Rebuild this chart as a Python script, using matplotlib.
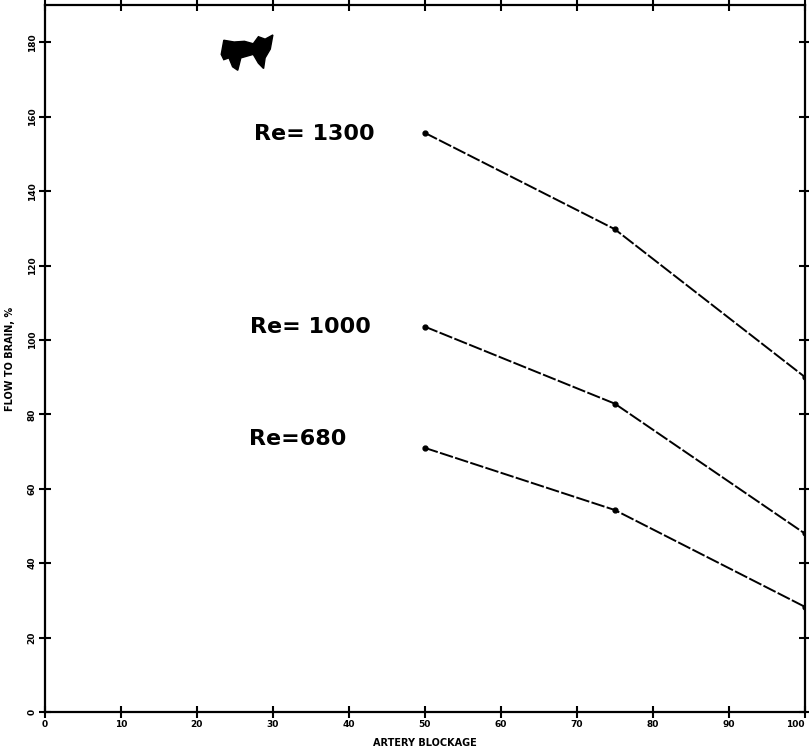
import matplotlib.pyplot as plt
import numpy as np

# artery blockage (%) and flow to brain (%) for three Reynolds numbers
blockage = [50, 75, 100]
flow_1300 = [155.7, 129.8, 90.1]
flow_1000 = [103.6, 82.9, 48.0]
flow_680 = [71.0, 54.3, 28.3]
curve_labels = ['Re= 1300', 'Re= 1000', 'Re=680']
label_spots = [(27.5, 155.5), (27, 103.5), (26.8, 73.5)]

xticks = np.arange(0, 101, 10)
yticks = np.arange(0, 181, 20)

fig = plt.figure(figsize=(8.09, 7.51), dpi=100)
ax = fig.add_axes([0.0556, 0.052, 0.939, 0.941])

for flow in [flow_1300, flow_1000, flow_680]:
    ax.plot(blockage, flow, color='black', linewidth=1.4, linestyle=(0, (7, 1.2)),
            marker='o', markersize=3.5)

for txt, (tx, ty) in zip(curve_labels, label_spots):
    ax.text(tx, ty, txt, fontsize=16, fontweight='semibold', color='black',
            ha='left', va='center', family='DejaVu Sans')

# the little animal sketch in the upper left
pts = np.array([(0.0, 0.45), (0.05, 0.85), (0.25, 0.80), (0.45, 0.82), (0.62, 0.75),
                (0.72, 0.95), (0.85, 0.88), (1.0, 1.0), (0.95, 0.6), (0.85, 0.35),
                (0.82, 0.05), (0.72, 0.2), (0.62, 0.45), (0.5, 0.40), (0.38, 0.35),
                (0.32, 0.0), (0.22, 0.1), (0.15, 0.35), (0.05, 0.3)])
pts[:, 0] = 0.232 + pts[:, 0] * 0.068
pts[:, 1] = 0.908 + pts[:, 1] * 0.050
blob = plt.Polygon(pts, closed=True, transform=ax.transAxes, color='black')
ax.add_patch(blob)

ax.set_xlim(0, 100)
ax.set_ylim(0, 190)
ax.set_xticks(xticks)
ax.set_yticks(yticks)
ax.set_xticklabels([str(v) for v in xticks], fontsize=6.5, fontweight='bold')
ax.get_xticklabels()[-1].set_ha('right')
ax.set_yticklabels([str(v) for v in yticks], fontsize=6.5, fontweight='bold',
                   rotation=90, va='center')
ax.tick_params(direction='inout', length=8, width=1.5, top=True, right=True, pad=2)

for s in ax.spines.values():
    s.set_linewidth(1.6)

ax.set_xlabel('ARTERY BLOCKAGE', fontsize=7, fontweight='bold', labelpad=6)
ax.set_ylabel('FLOW TO BRAIN, %', fontsize=7, fontweight='bold', labelpad=9)

fig.savefig('out.png', dpi=100)
